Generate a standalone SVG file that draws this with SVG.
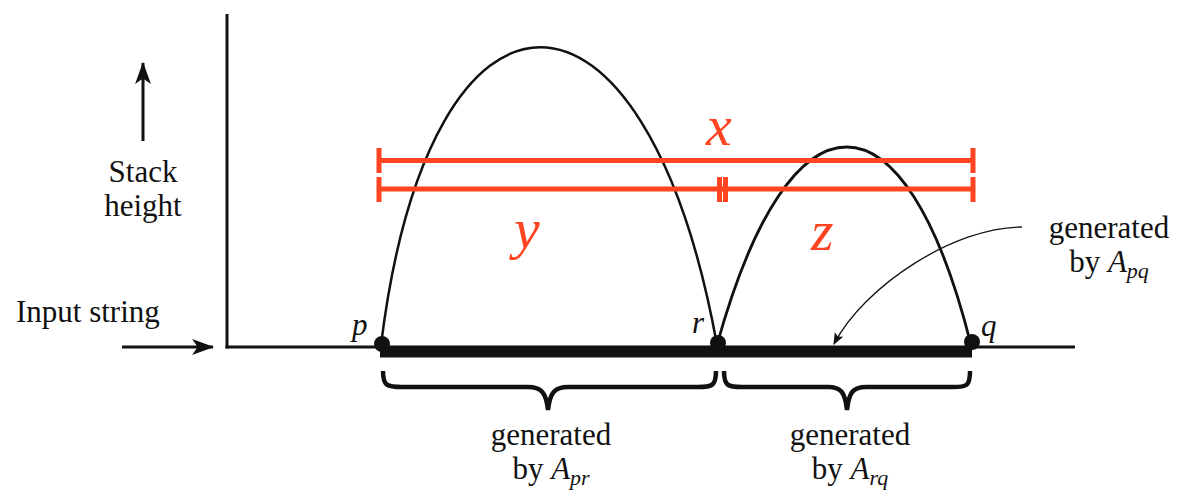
<svg xmlns="http://www.w3.org/2000/svg" width="1184" height="494" viewBox="0 0 1184 494">
<style>
text{font-family:'Liberation Serif','Times New Roman',Times,serif}
.t{font-size:31px;fill:#111}
.i{font-style:italic}
.s{font-style:italic;font-size:22px}
.red{stroke:#ff4422;stroke-width:5;fill:none}
.rt{font-style:italic;font-size:58px;fill:#ff4422}
.ln{stroke:#111;fill:none}
</style>
<defs>
<marker id="ah" viewBox="0 0 10 10" refX="9" refY="5" markerWidth="12" markerHeight="12" orient="auto" markerUnits="userSpaceOnUse">
<path d="M0,1 L10,5 L0,9 L2,5 Z" fill="#111"/>
</marker>
<marker id="ah2" viewBox="0 0 10 10" refX="9.5" refY="5" markerWidth="22" markerHeight="22" orient="auto" markerUnits="userSpaceOnUse">
<path d="M0,1.4 L10,5 L0,8.6 L2.5,5 Z" fill="#111"/>
</marker>
</defs>
<rect width="1184" height="494" fill="#fff"/>
<g id="axes">
<line class="ln" x1="227" y1="14" x2="227" y2="348.5" stroke-width="3"/>
<line class="ln" x1="225.5" y1="347" x2="1075" y2="347" stroke-width="3"/>
<line class="ln" x1="380" y1="352" x2="972" y2="352" stroke-width="11"/>
</g>
<g id="connectors">
<line class="ln" x1="122" y1="347" x2="213" y2="347" stroke-width="3" marker-end="url(#ah2)"/>
<line class="ln" x1="143" y1="141" x2="143" y2="63" stroke-width="3" marker-end="url(#ah2)"/>
<path class="ln" d="M1022,227 C955,227 865,285 834,344" stroke-width="1.3" marker-end="url(#ah)"/>
</g>
<g id="arches">
<path class="ln" d="M381,345 C430,-52 645,-52 717,345" stroke-width="2.5"/>
<path class="ln" d="M717,345 C790,81 905,81 971,345" stroke-width="2.8"/>
</g>
<g id="points">
<circle cx="382" cy="344" r="8" fill="#111"/>
<circle cx="718" cy="343" r="8" fill="#111"/>
<circle cx="972" cy="342" r="8" fill="#111"/>
<text class="t i" x="352" y="335" font-size="32">p</text>
<text class="t i" x="692" y="333" font-size="32">r</text>
<text class="t i" x="981" y="336" font-size="32">q</text>
</g>
<g id="measures">
<line class="red" x1="379" y1="160.5" x2="973" y2="160.5"/>
<line class="red" x1="379" y1="148" x2="379" y2="173"/>
<line class="red" x1="973" y1="148" x2="973" y2="173"/>
<line class="red" x1="379" y1="189" x2="973" y2="189"/>
<line class="red" x1="379" y1="177" x2="379" y2="202"/>
<line class="red" x1="973" y1="177" x2="973" y2="202"/>
<line class="red" x1="719.5" y1="177" x2="719.5" y2="202" stroke-width="3"/>
<line class="red" x1="725.5" y1="177" x2="725.5" y2="202" stroke-width="3"/>
<text class="rt" x="706" y="145">x</text>
<text class="rt" x="514" y="248">y</text>
<text class="rt" x="811" y="250">z</text>
</g>
<g id="braces">
<path class="ln" stroke-width="4.5" d="M383,371 C383,386 387,387 402,387 L528,387 C541,387 546,392 548,410 C550,392 555,387 568,387 L698,387 C712,387 716,386 716,371"/>
<path class="ln" stroke-width="4.5" d="M724,371 C724,386 728,387 742,387 L828,387 C841,387 845,392 847,410 C849,392 853,387 866,387 L953,387 C967,387 970,386 970,371"/>
</g>
<g id="labels">
<text class="t" x="143" y="182" text-anchor="middle">Stack</text>
<text class="t" x="143" y="216" text-anchor="middle">height</text>
<text class="t" x="16" y="322">Input string</text>
<text class="t" x="551" y="445" text-anchor="middle">generated</text>
<text class="t" x="551" y="479" text-anchor="middle">by <tspan class="i">A</tspan><tspan class="s" dy="6">pr</tspan></text>
<text class="t" x="850" y="445" text-anchor="middle">generated</text>
<text class="t" x="850" y="479" text-anchor="middle">by <tspan class="i">A</tspan><tspan class="s" dy="6">rq</tspan></text>
<text class="t" x="1109" y="238" text-anchor="middle">generated</text>
<text class="t" x="1109" y="272" text-anchor="middle">by <tspan class="i">A</tspan><tspan class="s" dy="6">pq</tspan></text>
</g>
</svg>
